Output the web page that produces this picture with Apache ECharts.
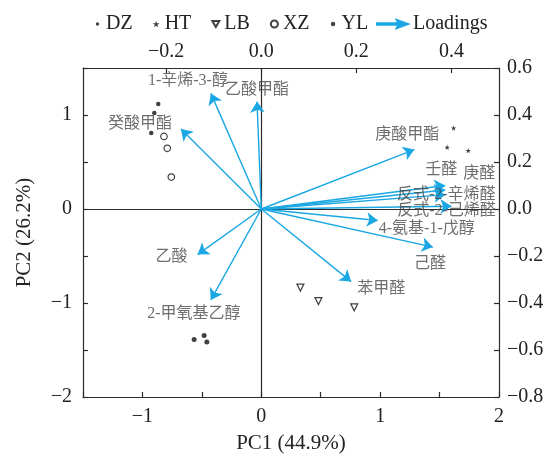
<!DOCTYPE html>
<html>
<head>
<meta charset="utf-8">
<script src="https://cdn.jsdelivr.net/npm/echarts@6/dist/echarts.min.js"></script>
<style>html,body{margin:0;padding:0;background:#fff}#c{width:552px;height:459px}</style>
</head>
<body>
<div id="c"></div>
<script>
// Scores (PC1, PC2)
const DZ = [[-0.867, 1.117], [-0.900, 1.020], [-0.926, 0.808]];
const HT = [[1.618, 0.861], [1.564, 0.656], [1.741, 0.622]];
const LB = [[0.329, -0.836], [0.481, -0.980], [0.782, -1.046]];
const XZ = [[-0.819, 0.772], [-0.791, 0.646], [-0.757, 0.340]];
const YL = [[-0.565, -1.388], [-0.481, -1.345], [-0.458, -1.415]];

// Loadings
const loadingNames = ['1-辛烯-3-醇', '乙酸甲酯', '癸酸甲酯', '庚酸甲酯', '壬醛', '庚醛',
  '反式-2-辛烯醛', '反式-2-己烯醛', '4-氨基-1-戊醇', '己醛', '苯甲醛', '乙酸', '2-甲氧基乙醇'];
const loadingPC1 = [-0.106, -0.009, -0.169, 0.322, 0.387, 0.387, 0.387, 0.400, 0.245, 0.361, 0.189, -0.134, -0.106];
const loadingPC2 = [0.492, 0.457, 0.340, 0.253, 0.100, 0.081, 0.061, 0.012, -0.049, -0.162, -0.309, -0.194, -0.387];

// Tick labels
const bottomTicks = [-1, 0, 1, 2];
const leftTicks = [-2, -1, 0, 1];
const topTicks = [-0.2, 0.0, 0.2, 0.4];

// label offsets (styling, px)
const labelOffset = {
  '1-辛烯-3-醇': [-23, -13], '乙酸甲酯': [0, -12], '癸酸甲酯': [-41, -5], '庚酸甲酯': [-7, -15],
  '壬醛': [-4, -16], '庚醛': [34, -16], '反式-2-辛烯醛': [1, 0], '反式-2-己烯醛': [-5, 5],
  '4-氨基-1-戊醇': [49, 8], '己醛': [-3, 17], '苯甲醛': [30, 7], '乙酸': [-26, 2], '2-甲氧基乙醇': [-17, 14]
};

const BLUE = '#1aa7e3';
const AX = '#2b2b2b';
const serif = '"Liberation Serif", "Times New Roman", serif';
const minus = s => String(s).replace('-', '\u2212');
const STAR = 'path://M50 0 L61 35 L98 35 L68 57 L79 91 L50 70 L21 91 L32 57 L2 35 L39 35 Z';
const DTRI = 'path://M0 0 L10 0 L5 8.66 Z';
const ARROW = 'path://M0 4.3 L22 4.3 L22 5.7 L0 5.7 Z M19 1 L30 5 L19 9 L21 5 Z';
const SMALLDOT = 'path://M0 0 M10 10 M7.4 5 A2.4 2.4 0 1 1 2.6 5 A2.4 2.4 0 1 1 7.4 5 Z';
const MIDDOT = 'path://M0 0 M10 10 M8.2 5 A3.2 3.2 0 1 1 1.8 5 A3.2 3.2 0 1 1 8.2 5 Z';

const axisCommon = {
  axisLine: { show: true, onZero: false, lineStyle: { color: AX, width: 1.2 } },
  axisTick: { show: true, inside: true, length: 5, lineStyle: { color: AX, width: 1.2 } },
  splitLine: { show: false },
  axisLabel: { color: '#222', fontFamily: serif, fontSize: 20 }
};

const chart = echarts.init(document.getElementById('c'), null, { renderer: 'canvas' });
chart.setOption({
  animation: false,
  backgroundColor: '#fff',
  grid: { left: 83, right: 53, top: 68, bottom: 59, containLabel: false },
  legend: [{
    left: 89, top: 9, itemWidth: 7, itemHeight: 7, itemGap: 20,
    textStyle: { fontFamily: serif, fontSize: 20, color: '#222' },
    data: [
      { name: 'DZ', icon: SMALLDOT },
      { name: 'HT', icon: STAR },
      { name: 'LB', icon: DTRI },
      { name: 'XZ', icon: 'circle' },
      { name: 'YL', icon: MIDDOT }
    ]
  }, {
    left: 371, top: 9, itemWidth: 31, itemHeight: 9,
    textStyle: { fontFamily: serif, fontSize: 20, color: '#222' },
    data: [{ name: 'Loadings', icon: ARROW, itemStyle: { color: BLUE } }]
  }],
  xAxis: [
    Object.assign({}, axisCommon, {
      type: 'value', position: 'bottom', min: -1.5, max: 2, interval: 0.5,
      name: 'PC1 (44.9%)', nameLocation: 'middle', nameGap: 36,
      nameTextStyle: { fontFamily: serif, fontSize: 21, color: '#222' },
      axisLabel: Object.assign({}, axisCommon.axisLabel, { margin: 10,
        formatter: v => bottomTicks.includes(v) ? minus(v) : '' })
    }),
    Object.assign({}, axisCommon, {
      type: 'value', position: 'top', min: -0.375, max: 0.5,
      axisTick: Object.assign({}, axisCommon.axisTick, { customValues: topTicks }),
      axisLabel: Object.assign({}, axisCommon.axisLabel, { margin: 6, customValues: topTicks,
        formatter: v => minus(v.toFixed(1)) })
    })
  ],
  yAxis: [
    Object.assign({}, axisCommon, {
      type: 'value', position: 'left', min: -2, max: 1.5, interval: 0.5,
      name: 'PC2 (26.2%)', nameLocation: 'middle', nameGap: 48, nameRotate: 90,
      nameTextStyle: { fontFamily: serif, fontSize: 21, color: '#222' },
      axisLabel: Object.assign({}, axisCommon.axisLabel, { margin: 11,
        formatter: v => leftTicks.includes(v) ? minus(v) : '' })
    }),
    Object.assign({}, axisCommon, {
      type: 'value', position: 'right', min: -0.8, max: 0.6, interval: 0.2,
      axisLabel: Object.assign({}, axisCommon.axisLabel, { margin: 8,
        formatter: v => minus(v.toFixed(1)) })
    })
  ],
  series: [
    {
      name: 'DZ', type: 'scatter', xAxisIndex: 0, yAxisIndex: 0, data: DZ,
      symbol: 'circle', symbolSize: 4.5, itemStyle: { color: '#111' }, z: 5,
      markLine: {
        silent: true, symbol: 'none', animation: false, z: 1,
        lineStyle: { color: AX, type: 'solid', width: 1.2 },
        label: { show: false },
        data: [{ xAxis: 0 }, { yAxis: 0 }]
      }
    },
    {
      name: 'HT', type: 'scatter', xAxisIndex: 0, yAxisIndex: 0, data: HT,
      symbol: STAR, symbolSize: 5.5, itemStyle: { color: '#111' }, z: 5
    },
    {
      name: 'LB', type: 'scatter', xAxisIndex: 0, yAxisIndex: 0, data: LB,
      symbol: DTRI, symbolSize: 7, itemStyle: { color: '#fff', borderColor: '#111', borderWidth: 1.2 }, z: 5
    },
    {
      name: 'XZ', type: 'scatter', xAxisIndex: 0, yAxisIndex: 0, data: XZ,
      symbol: 'circle', symbolSize: 6.5, itemStyle: { color: '#fff', borderColor: '#111', borderWidth: 1.2 }, z: 5
    },
    {
      name: 'YL', type: 'scatter', xAxisIndex: 0, yAxisIndex: 0, data: YL,
      symbol: 'circle', symbolSize: 5, itemStyle: { color: '#111' }, z: 5
    },
    {
      name: 'Loadings', type: 'lines', coordinateSystem: 'cartesian2d', xAxisIndex: 1, yAxisIndex: 1,
      symbol: ['none', 'arrow'], symbolSize: 11, z: 3,
      itemStyle: { color: BLUE },
      lineStyle: { color: BLUE, width: 1.4, opacity: 1, curveness: 0 },
      data: loadingNames.map((n, i) => ({ name: n, coords: [[0, 0], [loadingPC1[i], loadingPC2[i]]] }))
    },
    {
      name: 'loadingLabels', type: 'scatter', xAxisIndex: 1, yAxisIndex: 1,
      symbolSize: 0, silent: true, z: 6,
      label: { show: true, position: 'inside', formatter: p => p.name,
        fontFamily: '"Liberation Serif", "Noto Sans CJK SC", serif', fontSize: 16, color: '#4a4a4a' },
      data: loadingNames.map((n, i) => ({ name: n, value: [loadingPC1[i], loadingPC2[i]],
        label: { offset: labelOffset[n] } }))
    }
  ]
});
</script>
</body>
</html>
